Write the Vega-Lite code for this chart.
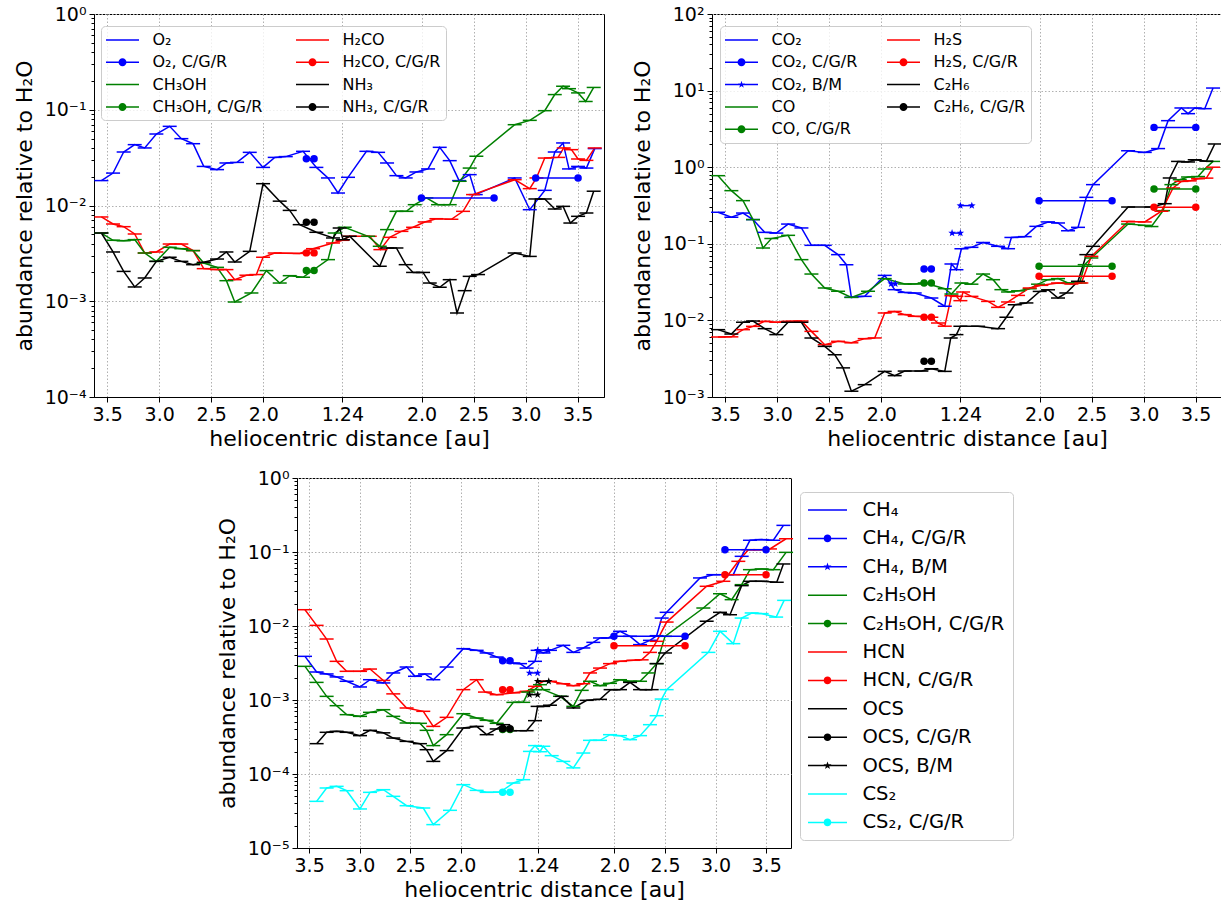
{
"$schema": "https://vega.github.io/schema/vega-lite/v6.json",
"background": "white",
"padding": {"left": 12, "top": 4, "right": 0, "bottom": 0},
"config": {
  "font": "DejaVu Sans",
  "view": {"stroke": "black", "strokeWidth": 1},
  "axis": {"labelFont": "DejaVu Sans", "labelFontSize": 19, "labelColor": "#000", "titleFont": "DejaVu Sans", "titleFontSize": 22, "titleFontWeight": "normal", "titleColor": "#000", "domainColor": "#000", "domainWidth": 1, "tickColor": "#000", "tickWidth": 1, "gridColor": "#b0b0b0", "gridDash": [1.5, 2], "gridWidth": 1, "labelOverlap": false, "labelFlush": false, "labelPadding": 3}
},
"datasets": {
"tlL": [
{"s":"O₂","x":-2.315,"y":0.0182},{"s":"O₂","x":-2.203,"y":0.0218},{"s":"O₂","x":-2.101,"y":0.0362},{"s":"O₂","x":-1.995,"y":0.0432},{"s":"O₂","x":-1.899,"y":0.0399},{"s":"O₂","x":-1.787,"y":0.0558},{"s":"O₂","x":-1.659,"y":0.0671},{"s":"O₂","x":-1.547,"y":0.0499},{"s":"O₂","x":-1.434,"y":0.0442},{"s":"O₂","x":-1.332,"y":0.0256},{"s":"O₂","x":-1.204,"y":0.0237},{"s":"O₂","x":-1.114,"y":0.0278},{"s":"O₂","x":-1.012,"y":0.0282},{"s":"O₂","x":-0.890,"y":0.0359},{"s":"O₂","x":-0.762,"y":0.0250},{"s":"O₂","x":-0.650,"y":0.0318},{"s":"O₂","x":-0.544,"y":0.0324},{"s":"O₂","x":-0.378,"y":0.0368},{"s":"O₂","x":-0.250,"y":0.0250},{"s":"O₂","x":-0.138,"y":0.0194},{"s":"O₂","x":-0.042,"y":0.0135},{"s":"O₂","x":0.054,"y":0.0197},{"s":"O₂","x":0.231,"y":0.0368},{"s":"O₂","x":0.343,"y":0.0359},{"s":"O₂","x":0.429,"y":0.0278},{"s":"O₂","x":0.519,"y":0.0205},{"s":"O₂","x":0.608,"y":0.0194},{"s":"O₂","x":0.711,"y":0.0224},{"s":"O₂","x":0.823,"y":0.0241},{"s":"O₂","x":0.935,"y":0.0405},{"s":"O₂","x":1.031,"y":0.0294},{"s":"O₂","x":1.121,"y":0.0182},{"s":"O₂","x":1.223,"y":0.0210},{"s":"O₂","x":1.281,"y":0.0130},{"s":"O₂","x":1.655,"y":0.0194},{"s":"O₂","x":1.800,"y":0.00904},{"s":"O₂","x":1.944,"y":0.0144},{"s":"O₂","x":2.040,"y":0.0362},{"s":"O₂","x":2.120,"y":0.0450},{"s":"O₂","x":2.177,"y":0.0241},{"s":"O₂","x":2.264,"y":0.0256},{"s":"O₂","x":2.344,"y":0.0246},{"s":"O₂","x":2.424,"y":0.0393},
{"s":"H₂CO","x":-2.315,"y":0.00759},{"s":"H₂CO","x":-2.203,"y":0.00641},{"s":"H₂CO","x":-2.101,"y":0.00601},{"s":"H₂CO","x":-1.995,"y":0.00504},{"s":"H₂CO","x":-1.899,"y":0.00319},{"s":"H₂CO","x":-1.787,"y":0.00327},{"s":"H₂CO","x":-1.659,"y":0.00396},{"s":"H₂CO","x":-1.547,"y":0.00396},{"s":"H₂CO","x":-1.434,"y":0.00338},{"s":"H₂CO","x":-1.332,"y":0.00219},{"s":"H₂CO","x":-1.204,"y":0.00214},{"s":"H₂CO","x":-1.114,"y":0.00214},{"s":"H₂CO","x":-1.034,"y":0.00168},{"s":"H₂CO","x":-0.922,"y":0.00187},{"s":"H₂CO","x":-0.826,"y":0.00190},{"s":"H₂CO","x":-0.762,"y":0.00288},{"s":"H₂CO","x":-0.650,"y":0.00319},{"s":"H₂CO","x":-0.544,"y":0.00317},{"s":"H₂CO","x":-0.410,"y":0.00316},{"s":"H₂CO","x":-0.282,"y":0.00354},{"s":"H₂CO","x":-0.090,"y":0.00406},{"s":"H₂CO","x":0.0,"y":0.00433},{"s":"H₂CO","x":0.070,"y":0.00477},{"s":"H₂CO","x":0.263,"y":0.00477},{"s":"H₂CO","x":0.365,"y":0.00346},{"s":"H₂CO","x":0.455,"y":0.00465},{"s":"H₂CO","x":0.567,"y":0.00537},{"s":"H₂CO","x":0.679,"y":0.00592},{"s":"H₂CO","x":0.791,"y":0.00673},{"s":"H₂CO","x":0.903,"y":0.00728},{"s":"H₂CO","x":1.047,"y":0.00718},{"s":"H₂CO","x":1.159,"y":0.00869},{"s":"H₂CO","x":1.255,"y":0.0130},{"s":"H₂CO","x":1.655,"y":0.0186},{"s":"H₂CO","x":1.800,"y":0.0150},{"s":"H₂CO","x":1.864,"y":0.0194},{"s":"H₂CO","x":1.944,"y":0.0313},{"s":"H₂CO","x":2.072,"y":0.0318},{"s":"H₂CO","x":2.126,"y":0.0399},{"s":"H₂CO","x":2.200,"y":0.0383},{"s":"H₂CO","x":2.264,"y":0.0306},{"s":"H₂CO","x":2.344,"y":0.0296},{"s":"H₂CO","x":2.424,"y":0.0399},
{"s":"CH₃OH","x":-2.315,"y":0.00516},{"s":"CH₃OH","x":-2.203,"y":0.00433},{"s":"CH₃OH","x":-2.101,"y":0.00429},{"s":"CH₃OH","x":-1.995,"y":0.00440},{"s":"CH₃OH","x":-1.899,"y":0.00319},{"s":"CH₃OH","x":-1.787,"y":0.00261},{"s":"CH₃OH","x":-1.659,"y":0.00366},{"s":"CH₃OH","x":-1.547,"y":0.00354},{"s":"CH₃OH","x":-1.434,"y":0.00338},{"s":"CH₃OH","x":-1.332,"y":0.00251},{"s":"CH₃OH","x":-1.204,"y":0.00226},{"s":"CH₃OH","x":-1.114,"y":0.00164},{"s":"CH₃OH","x":-1.034,"y":0.000982},{"s":"CH₃OH","x":-0.874,"y":0.00122},{"s":"CH₃OH","x":-0.730,"y":0.00209},{"s":"CH₃OH","x":-0.602,"y":0.00155},{"s":"CH₃OH","x":-0.506,"y":0.00185},{"s":"CH₃OH","x":-0.378,"y":0.00178},{"s":"CH₃OH","x":-0.138,"y":0.00272},{"s":"CH₃OH","x":-0.074,"y":0.00516},{"s":"CH₃OH","x":0.022,"y":0.00592},{"s":"CH₃OH","x":0.247,"y":0.00477},{"s":"CH₃OH","x":0.359,"y":0.00375},{"s":"CH₃OH","x":0.429,"y":0.0056},{"s":"CH₃OH","x":0.519,"y":0.00869},{"s":"CH₃OH","x":0.615,"y":0.00869},{"s":"CH₃OH","x":0.695,"y":0.0102},{"s":"CH₃OH","x":0.807,"y":0.0120},{"s":"CH₃OH","x":0.919,"y":0.0102},{"s":"CH₃OH","x":1.031,"y":0.0102},{"s":"CH₃OH","x":1.127,"y":0.0179},{"s":"CH₃OH","x":1.223,"y":0.0246},{"s":"CH₃OH","x":1.287,"y":0.0327},{"s":"CH₃OH","x":1.655,"y":0.0698},{"s":"CH₃OH","x":1.800,"y":0.0775},{"s":"CH₃OH","x":1.944,"y":0.0978},{"s":"CH₃OH","x":2.040,"y":0.144},{"s":"CH₃OH","x":2.120,"y":0.176},{"s":"CH₃OH","x":2.177,"y":0.166},{"s":"CH₃OH","x":2.264,"y":0.150},{"s":"CH₃OH","x":2.337,"y":0.122},{"s":"CH₃OH","x":2.414,"y":0.171},
{"s":"NH₃","x":-2.315,"y":0.00516},{"s":"NH₃","x":-2.203,"y":0.00327},{"s":"NH₃","x":-2.101,"y":0.00205},{"s":"NH₃","x":-1.995,"y":0.00141},{"s":"NH₃","x":-1.899,"y":0.00175},{"s":"NH₃","x":-1.787,"y":0.00261},{"s":"NH₃","x":-1.659,"y":0.00288},{"s":"NH₃","x":-1.547,"y":0.00261},{"s":"NH₃","x":-1.434,"y":0.00241},{"s":"NH₃","x":-1.332,"y":0.00255},{"s":"NH₃","x":-1.204,"y":0.00276},{"s":"NH₃","x":-1.114,"y":0.00327},{"s":"NH₃","x":-1.034,"y":0.00257},{"s":"NH₃","x":-0.890,"y":0.00332},{"s":"NH₃","x":-0.762,"y":0.0169},{"s":"NH₃","x":-0.602,"y":0.0111},{"s":"NH₃","x":-0.506,"y":0.00889},{"s":"NH₃","x":-0.410,"y":0.00631},{"s":"NH₃","x":-0.250,"y":0.00525},{"s":"NH₃","x":-0.090,"y":0.00458},{"s":"NH₃","x":-0.026,"y":0.00582},{"s":"NH₃","x":0.006,"y":0.00440},{"s":"NH₃","x":0.070,"y":0.00477},{"s":"NH₃","x":0.359,"y":0.00232},{"s":"NH₃","x":0.429,"y":0.00360},{"s":"NH₃","x":0.519,"y":0.00360},{"s":"NH₃","x":0.608,"y":0.00241},{"s":"NH₃","x":0.679,"y":0.00200},{"s":"NH₃","x":0.775,"y":0.00200},{"s":"NH₃","x":0.839,"y":0.00155},{"s":"NH₃","x":0.935,"y":0.00140},{"s":"NH₃","x":1.031,"y":0.00168},{"s":"NH₃","x":1.101,"y":0.000754},{"s":"NH₃","x":1.175,"y":0.00129},{"s":"NH₃","x":1.223,"y":0.00182},{"s":"NH₃","x":1.303,"y":0.00190},{"s":"NH₃","x":1.655,"y":0.00319},{"s":"NH₃","x":1.800,"y":0.00294},{"s":"NH₃","x":1.854,"y":0.0117},{"s":"NH₃","x":1.944,"y":0.0117},{"s":"NH₃","x":2.040,"y":0.00919},{"s":"NH₃","x":2.120,"y":0.00980},{"s":"NH₃","x":2.190,"y":0.00656},{"s":"NH₃","x":2.264,"y":0.00771},{"s":"NH₃","x":2.344,"y":0.00835},{"s":"NH₃","x":2.414,"y":0.0141}
],
"tlP": [
{"s":"O₂, C/G/R","g":1,"x":-0.346,"y":0.0308},{"s":"O₂, C/G/R","g":1,"x":-0.272,"y":0.0308},{"s":"O₂, C/G/R","g":2,"x":0.759,"y":0.012},{"s":"O₂, C/G/R","g":2,"x":1.457,"y":0.012},{"s":"O₂, C/G/R","g":3,"x":1.857,"y":0.0194},{"s":"O₂, C/G/R","g":3,"x":2.264,"y":0.0194},
{"s":"H₂CO, C/G/R","g":1,"x":-0.346,"y":0.0032},{"s":"H₂CO, C/G/R","g":1,"x":-0.272,"y":0.0032},
{"s":"CH₃OH, C/G/R","g":1,"x":-0.346,"y":0.00209},{"s":"CH₃OH, C/G/R","g":1,"x":-0.272,"y":0.00209},
{"s":"NH₃, C/G/R","g":1,"x":-0.346,"y":0.0067},{"s":"NH₃, C/G/R","g":1,"x":-0.272,"y":0.0067}
],
"trL": [
{"s":"CO₂","x":-2.328,"y":0.258},{"s":"CO₂","x":-2.200,"y":0.222},{"s":"CO₂","x":-2.088,"y":0.252},{"s":"CO₂","x":-1.992,"y":0.207},{"s":"CO₂","x":-1.880,"y":0.141},{"s":"CO₂","x":-1.768,"y":0.138},{"s":"CO₂","x":-1.655,"y":0.181},{"s":"CO₂","x":-1.527,"y":0.161},{"s":"CO₂","x":-1.431,"y":0.0955},{"s":"CO₂","x":-1.303,"y":0.0955},{"s":"CO₂","x":-1.175,"y":0.0722},{"s":"CO₂","x":-1.095,"y":0.0534},{"s":"CO₂","x":-1.047,"y":0.0200},{"s":"CO₂","x":-0.919,"y":0.0206},{"s":"CO₂","x":-0.727,"y":0.0387},{"s":"CO₂","x":-0.631,"y":0.0252},{"s":"CO₂","x":-0.535,"y":0.0232},{"s":"CO₂","x":-0.439,"y":0.0228},{"s":"CO₂","x":-0.279,"y":0.0196},{"s":"CO₂","x":-0.150,"y":0.0153},{"s":"CO₂","x":-0.086,"y":0.0545},{"s":"CO₂","x":-0.038,"y":0.0459},{"s":"CO₂","x":0.010,"y":0.0863},{"s":"CO₂","x":0.106,"y":0.0899},{"s":"CO₂","x":0.218,"y":0.104},{"s":"CO₂","x":0.362,"y":0.0927},{"s":"CO₂","x":0.458,"y":0.0863},{"s":"CO₂","x":0.490,"y":0.121},{"s":"CO₂","x":0.618,"y":0.124},{"s":"CO₂","x":0.730,"y":0.169},{"s":"CO₂","x":0.842,"y":0.193},{"s":"CO₂","x":0.938,"y":0.187},{"s":"CO₂","x":1.034,"y":0.148},{"s":"CO₂","x":1.130,"y":0.164},{"s":"CO₂","x":1.210,"y":0.404},{"s":"CO₂","x":1.274,"y":0.592},{"s":"CO₂","x":1.611,"y":1.64},{"s":"CO₂","x":1.771,"y":1.56},{"s":"CO₂","x":1.899,"y":1.75},{"s":"CO₂","x":1.995,"y":4.05},{"s":"CO₂","x":2.123,"y":5.93},{"s":"CO₂","x":2.187,"y":5.0},{"s":"CO₂","x":2.251,"y":5.93},{"s":"CO₂","x":2.347,"y":5.81},{"s":"CO₂","x":2.427,"y":10.8},
{"s":"CO","x":-2.328,"y":0.775},{"s":"CO","x":-2.200,"y":0.494},{"s":"CO","x":-2.088,"y":0.366},{"s":"CO","x":-1.992,"y":0.207},{"s":"CO","x":-1.896,"y":0.0881},{"s":"CO","x":-1.816,"y":0.117},{"s":"CO","x":-1.655,"y":0.129},{"s":"CO","x":-1.527,"y":0.0621},{"s":"CO","x":-1.431,"y":0.0403},{"s":"CO","x":-1.303,"y":0.0265},{"s":"CO","x":-1.175,"y":0.0240},{"s":"CO","x":-1.047,"y":0.0200},{"s":"CO","x":-0.887,"y":0.0240},{"s":"CO","x":-0.727,"y":0.0351},{"s":"CO","x":-0.535,"y":0.0299},{"s":"CO","x":-0.439,"y":0.0299},{"s":"CO","x":-0.343,"y":0.0308},{"s":"CO","x":-0.150,"y":0.0259},{"s":"CO","x":-0.086,"y":0.0221},{"s":"CO","x":0.010,"y":0.0308},{"s":"CO","x":0.106,"y":0.0297},{"s":"CO","x":0.218,"y":0.0403},{"s":"CO","x":0.314,"y":0.034},{"s":"CO","x":0.394,"y":0.0252},{"s":"CO","x":0.458,"y":0.0235},{"s":"CO","x":0.554,"y":0.0243},{"s":"CO","x":0.666,"y":0.0259},{"s":"CO","x":0.746,"y":0.0297},{"s":"CO","x":0.842,"y":0.034},{"s":"CO","x":0.938,"y":0.0351},{"s":"CO","x":1.034,"y":0.0308},{"s":"CO","x":1.146,"y":0.0308},{"s":"CO","x":1.194,"y":0.0534},{"s":"CO","x":1.258,"y":0.0653},{"s":"CO","x":1.611,"y":0.181},{"s":"CO","x":1.771,"y":0.174},{"s":"CO","x":1.835,"y":0.168},{"s":"CO","x":1.947,"y":0.271},{"s":"CO","x":2.027,"y":0.592},{"s":"CO","x":2.107,"y":0.687},{"s":"CO","x":2.187,"y":0.745},{"s":"CO","x":2.283,"y":0.755},{"s":"CO","x":2.347,"y":0.948},{"s":"CO","x":2.427,"y":1.19},
{"s":"H₂S","x":-2.328,"y":0.00607},{"s":"H₂S","x":-2.200,"y":0.0061},{"s":"H₂S","x":-2.088,"y":0.00757},{"s":"H₂S","x":-1.992,"y":0.00836},{"s":"H₂S","x":-1.880,"y":0.00972},{"s":"H₂S","x":-1.768,"y":0.00946},{"s":"H₂S","x":-1.655,"y":0.00972},{"s":"H₂S","x":-1.527,"y":0.00982},{"s":"H₂S","x":-1.431,"y":0.00719},{"s":"H₂S","x":-1.303,"y":0.00482},{"s":"H₂S","x":-1.175,"y":0.00533},{"s":"H₂S","x":-1.047,"y":0.0051},{"s":"H₂S","x":-0.919,"y":0.00578},{"s":"H₂S","x":-0.823,"y":0.0059},{"s":"H₂S","x":-0.727,"y":0.0125},{"s":"H₂S","x":-0.631,"y":0.0131},{"s":"H₂S","x":-0.535,"y":0.0119},{"s":"H₂S","x":-0.439,"y":0.0113},{"s":"H₂S","x":-0.279,"y":0.0110},{"s":"H₂S","x":-0.215,"y":0.00925},{"s":"H₂S","x":-0.150,"y":0.0084},{"s":"H₂S","x":-0.086,"y":0.021},{"s":"H₂S","x":-0.038,"y":0.0206},{"s":"H₂S","x":0.0,"y":0.0181},{"s":"H₂S","x":0.026,"y":0.0235},{"s":"H₂S","x":0.106,"y":0.0206},{"s":"H₂S","x":0.266,"y":0.0177},{"s":"H₂S","x":0.362,"y":0.0148},{"s":"H₂S","x":0.458,"y":0.0174},{"s":"H₂S","x":0.554,"y":0.0212},{"s":"H₂S","x":0.666,"y":0.0265},{"s":"H₂S","x":0.778,"y":0.0287},{"s":"H₂S","x":0.938,"y":0.0308},{"s":"H₂S","x":1.066,"y":0.0299},{"s":"H₂S","x":1.162,"y":0.0308},{"s":"H₂S","x":1.258,"y":0.0686},{"s":"H₂S","x":1.611,"y":0.196},{"s":"H₂S","x":1.771,"y":0.193},{"s":"H₂S","x":1.931,"y":0.266},{"s":"H₂S","x":2.043,"y":0.535},{"s":"H₂S","x":2.123,"y":0.653},{"s":"H₂S","x":2.203,"y":0.663},{"s":"H₂S","x":2.283,"y":0.708},{"s":"H₂S","x":2.363,"y":0.72},{"s":"H₂S","x":2.427,"y":1.0},
{"s":"C₂H₆","x":-2.328,"y":0.00757},{"s":"C₂H₆","x":-2.200,"y":0.00664},{"s":"C₂H₆","x":-2.088,"y":0.00946},{"s":"C₂H₆","x":-1.992,"y":0.00982},{"s":"C₂H₆","x":-1.880,"y":0.0078},{"s":"C₂H₆","x":-1.768,"y":0.00652},{"s":"C₂H₆","x":-1.655,"y":0.00946},{"s":"C₂H₆","x":-1.527,"y":0.00946},{"s":"C₂H₆","x":-1.431,"y":0.00589},{"s":"C₂H₆","x":-1.303,"y":0.00458},{"s":"C₂H₆","x":-1.207,"y":0.00357},{"s":"C₂H₆","x":-1.127,"y":0.0024},{"s":"C₂H₆","x":-1.047,"y":0.00119},{"s":"C₂H₆","x":-0.919,"y":0.00145},{"s":"C₂H₆","x":-0.727,"y":0.00216},{"s":"C₂H₆","x":-0.631,"y":0.0019},{"s":"C₂H₆","x":-0.535,"y":0.00218},{"s":"C₂H₆","x":-0.375,"y":0.00218},{"s":"C₂H₆","x":-0.279,"y":0.00234},{"s":"C₂H₆","x":-0.150,"y":0.00216},{"s":"C₂H₆","x":-0.093,"y":0.00589},{"s":"C₂H₆","x":-0.038,"y":0.00652},{"s":"C₂H₆","x":0.0,"y":0.00838},{"s":"C₂H₆","x":0.170,"y":0.00838},{"s":"C₂H₆","x":0.362,"y":0.0078},{"s":"C₂H₆","x":0.442,"y":0.011},{"s":"C₂H₆","x":0.522,"y":0.016},{"s":"C₂H₆","x":0.634,"y":0.0169},{"s":"C₂H₆","x":0.762,"y":0.0239},{"s":"C₂H₆","x":0.842,"y":0.0251},{"s":"C₂H₆","x":0.938,"y":0.0196},{"s":"C₂H₆","x":1.018,"y":0.0228},{"s":"C₂H₆","x":1.130,"y":0.0324},{"s":"C₂H₆","x":1.210,"y":0.0722},{"s":"C₂H₆","x":1.274,"y":0.0927},{"s":"C₂H₆","x":1.611,"y":0.302},{"s":"C₂H₆","x":1.835,"y":0.302},{"s":"C₂H₆","x":1.963,"y":0.334},{"s":"C₂H₆","x":2.011,"y":0.723},{"s":"C₂H₆","x":2.091,"y":1.19},{"s":"C₂H₆","x":2.187,"y":1.17},{"s":"C₂H₆","x":2.251,"y":1.25},{"s":"C₂H₆","x":2.363,"y":1.2},{"s":"C₂H₆","x":2.443,"y":2.01}
],
"trP": [
{"s":"CO₂, C/G/R","g":1,"x":-0.349,"y":0.0469},{"s":"CO₂, C/G/R","g":1,"x":-0.279,"y":0.0469},{"s":"CO₂, C/G/R","g":2,"x":0.756,"y":0.366},{"s":"CO₂, C/G/R","g":2,"x":1.457,"y":0.366},{"s":"CO₂, C/G/R","g":3,"x":1.860,"y":3.31},{"s":"CO₂, C/G/R","g":3,"x":2.261,"y":3.31},
{"s":"CO, C/G/R","g":1,"x":-0.349,"y":0.0308},{"s":"CO, C/G/R","g":1,"x":-0.279,"y":0.0308},{"s":"CO, C/G/R","g":2,"x":0.756,"y":0.0508},{"s":"CO, C/G/R","g":2,"x":1.457,"y":0.0508},{"s":"CO, C/G/R","g":3,"x":1.860,"y":0.519},{"s":"CO, C/G/R","g":3,"x":2.261,"y":0.519},
{"s":"H₂S, C/G/R","g":1,"x":-0.349,"y":0.011},{"s":"H₂S, C/G/R","g":1,"x":-0.279,"y":0.011},{"s":"H₂S, C/G/R","g":2,"x":0.756,"y":0.0376},{"s":"H₂S, C/G/R","g":2,"x":1.457,"y":0.0376},{"s":"H₂S, C/G/R","g":3,"x":1.860,"y":0.299},{"s":"H₂S, C/G/R","g":3,"x":2.261,"y":0.299},
{"s":"C₂H₆, C/G/R","g":1,"x":-0.349,"y":0.00292},{"s":"C₂H₆, C/G/R","g":1,"x":-0.279,"y":0.00292},
{"s":"CO₂, B/M","g":1,"x":-0.665,"y":0.030},{"s":"CO₂, B/M","g":1,"x":-0.625,"y":0.030},{"s":"CO₂, B/M","g":2,"x":-0.08,"y":0.138},{"s":"CO₂, B/M","g":2,"x":0.0,"y":0.138},{"s":"CO₂, B/M","g":3,"x":0.0,"y":0.315},{"s":"CO₂, B/M","g":3,"x":0.11,"y":0.315}
],
"btL": [
{"s":"CH₄","x":-2.301,"y":0.00389},{"s":"CH₄","x":-2.186,"y":0.00239},{"s":"CH₄","x":-2.087,"y":0.00225},{"s":"CH₄","x":-1.988,"y":0.00205},{"s":"CH₄","x":-1.889,"y":0.00179},{"s":"CH₄","x":-1.757,"y":0.0015},{"s":"CH₄","x":-1.658,"y":0.00188},{"s":"CH₄","x":-1.526,"y":0.0017},{"s":"CH₄","x":-1.428,"y":0.00232},{"s":"CH₄","x":-1.296,"y":0.00279},{"s":"CH₄","x":-1.213,"y":0.00209},{"s":"CH₄","x":-1.114,"y":0.00225},{"s":"CH₄","x":-1.032,"y":0.00188},{"s":"CH₄","x":-0.900,"y":0.00279},{"s":"CH₄","x":-0.735,"y":0.00494},{"s":"CH₄","x":-0.603,"y":0.00469},{"s":"CH₄","x":-0.504,"y":0.00432},{"s":"CH₄","x":-0.405,"y":0.00381},{"s":"CH₄","x":-0.240,"y":0.00316},{"s":"CH₄","x":-0.174,"y":0.0031},{"s":"CH₄","x":-0.109,"y":0.0027},{"s":"CH₄","x":-0.026,"y":0.00333},{"s":"CH₄","x":0.0,"y":0.00469},{"s":"CH₄","x":0.056,"y":0.00432},{"s":"CH₄","x":0.122,"y":0.00469},{"s":"CH₄","x":0.254,"y":0.00548},{"s":"CH₄","x":0.353,"y":0.0044},{"s":"CH₄","x":0.452,"y":0.00505},{"s":"CH₄","x":0.551,"y":0.00601},{"s":"CH₄","x":0.617,"y":0.00689},{"s":"CH₄","x":0.699,"y":0.00689},{"s":"CH₄","x":0.815,"y":0.00848},{"s":"CH₄","x":0.914,"y":0.00725},{"s":"CH₄","x":1.013,"y":0.0056},{"s":"CH₄","x":1.111,"y":0.0064},{"s":"CH₄","x":1.177,"y":0.0074},{"s":"CH₄","x":1.227,"y":0.0128},{"s":"CH₄","x":1.276,"y":0.0153},{"s":"CH₄","x":1.606,"y":0.0446},{"s":"CH₄","x":1.738,"y":0.0494},{"s":"CH₄","x":1.935,"y":0.0494},{"s":"CH₄","x":2.018,"y":0.0874},{"s":"CH₄","x":2.100,"y":0.144},{"s":"CH₄","x":2.216,"y":0.147},{"s":"CH₄","x":2.331,"y":0.144},{"s":"CH₄","x":2.431,"y":0.229},
{"s":"HCN","x":-2.301,"y":0.0166},{"s":"HCN","x":-2.186,"y":0.0102},{"s":"HCN","x":-2.087,"y":0.00667},{"s":"HCN","x":-1.988,"y":0.00333},{"s":"HCN","x":-1.889,"y":0.00244},{"s":"HCN","x":-1.757,"y":0.00244},{"s":"HCN","x":-1.658,"y":0.00262},{"s":"HCN","x":-1.526,"y":0.00184},{"s":"HCN","x":-1.428,"y":0.00121},{"s":"HCN","x":-1.296,"y":0.00078},{"s":"HCN","x":-1.131,"y":0.000703},{"s":"HCN","x":-1.032,"y":0.00044},{"s":"HCN","x":-0.900,"y":0.000583},{"s":"HCN","x":-0.735,"y":0.00138},{"s":"HCN","x":-0.603,"y":0.00188},{"s":"HCN","x":-0.521,"y":0.00128},{"s":"HCN","x":-0.405,"y":0.00118},{"s":"HCN","x":-0.240,"y":0.00125},{"s":"HCN","x":-0.109,"y":0.00131},{"s":"HCN","x":-0.026,"y":0.00153},{"s":"HCN","x":0.056,"y":0.00179},{"s":"HCN","x":0.122,"y":0.00179},{"s":"HCN","x":0.254,"y":0.00166},{"s":"HCN","x":0.353,"y":0.00156},{"s":"HCN","x":0.452,"y":0.00166},{"s":"HCN","x":0.518,"y":0.00232},{"s":"HCN","x":0.617,"y":0.0027},{"s":"HCN","x":0.716,"y":0.0031},{"s":"HCN","x":0.815,"y":0.00333},{"s":"HCN","x":0.947,"y":0.00344},{"s":"HCN","x":1.029,"y":0.00349},{"s":"HCN","x":1.111,"y":0.0044},{"s":"HCN","x":1.177,"y":0.00621},{"s":"HCN","x":1.276,"y":0.0113},{"s":"HCN","x":1.672,"y":0.0344},{"s":"HCN","x":1.837,"y":0.0402},{"s":"HCN","x":1.985,"y":0.0748},{"s":"HCN","x":2.084,"y":0.1075},{"s":"HCN","x":2.200,"y":0.1075},{"s":"HCN","x":2.298,"y":0.11},{"s":"HCN","x":2.457,"y":0.151},
{"s":"C₂H₅OH","x":-2.301,"y":0.00285},{"s":"C₂H₅OH","x":-2.186,"y":0.00173},{"s":"C₂H₅OH","x":-2.087,"y":0.00112},{"s":"C₂H₅OH","x":-1.988,"y":0.000838},{"s":"C₂H₅OH","x":-1.889,"y":0.000634},{"s":"C₂H₅OH","x":-1.757,"y":0.000601},{"s":"C₂H₅OH","x":-1.658,"y":0.000681},{"s":"C₂H₅OH","x":-1.526,"y":0.00074},{"s":"C₂H₅OH","x":-1.428,"y":0.000601},{"s":"C₂H₅OH","x":-1.296,"y":0.000489},{"s":"C₂H₅OH","x":-1.164,"y":0.000484},{"s":"C₂H₅OH","x":-1.098,"y":0.000389},{"s":"C₂H₅OH","x":-1.032,"y":0.000242},{"s":"C₂H₅OH","x":-0.900,"y":0.00034},{"s":"C₂H₅OH","x":-0.735,"y":0.000653},{"s":"C₂H₅OH","x":-0.603,"y":0.000571},{"s":"C₂H₅OH","x":-0.504,"y":0.000531},{"s":"C₂H₅OH","x":-0.405,"y":0.000484},{"s":"C₂H₅OH","x":-0.240,"y":0.000929},{"s":"C₂H₅OH","x":-0.142,"y":0.00093},{"s":"C₂H₅OH","x":-0.092,"y":0.00128},{"s":"C₂H₅OH","x":-0.026,"y":0.00138},{"s":"C₂H₅OH","x":0.023,"y":0.00161},{"s":"C₂H₅OH","x":0.056,"y":0.00138},{"s":"C₂H₅OH","x":0.221,"y":0.00112},{"s":"C₂H₅OH","x":0.353,"y":0.00082},{"s":"C₂H₅OH","x":0.436,"y":0.00135},{"s":"C₂H₅OH","x":0.518,"y":0.00179},{"s":"C₂H₅OH","x":0.617,"y":0.00156},{"s":"C₂H₅OH","x":0.716,"y":0.00168},{"s":"C₂H₅OH","x":0.815,"y":0.00188},{"s":"C₂H₅OH","x":0.914,"y":0.00179},{"s":"C₂H₅OH","x":1.013,"y":0.00179},{"s":"C₂H₅OH","x":1.095,"y":0.00232},{"s":"C₂H₅OH","x":1.177,"y":0.0031},{"s":"C₂H₅OH","x":1.260,"y":0.00725},{"s":"C₂H₅OH","x":1.639,"y":0.0175},{"s":"C₂H₅OH","x":1.804,"y":0.0273},{"s":"C₂H₅OH","x":1.919,"y":0.0227},{"s":"C₂H₅OH","x":2.018,"y":0.0362},{"s":"C₂H₅OH","x":2.100,"y":0.0577},{"s":"C₂H₅OH","x":2.216,"y":0.059},{"s":"C₂H₅OH","x":2.331,"y":0.0577},{"s":"C₂H₅OH","x":2.457,"y":0.0989},
{"s":"OCS","x":-2.186,"y":0.000257},{"s":"OCS","x":-2.087,"y":0.000366},{"s":"OCS","x":-1.988,"y":0.000377},{"s":"OCS","x":-1.889,"y":0.000366},{"s":"OCS","x":-1.757,"y":0.00033},{"s":"OCS","x":-1.658,"y":0.000389},{"s":"OCS","x":-1.526,"y":0.00036},{"s":"OCS","x":-1.428,"y":0.000306},{"s":"OCS","x":-1.296,"y":0.000276},{"s":"OCS","x":-1.164,"y":0.000257},{"s":"OCS","x":-1.098,"y":0.000213},{"s":"OCS","x":-1.032,"y":0.000148},{"s":"OCS","x":-0.900,"y":0.000207},{"s":"OCS","x":-0.735,"y":0.000418},{"s":"OCS","x":-0.603,"y":0.00044},{"s":"OCS","x":-0.504,"y":0.00034},{"s":"OCS","x":-0.405,"y":0.000406},{"s":"OCS","x":-0.340,"y":0.000464},{"s":"OCS","x":-0.273,"y":0.000385},{"s":"OCS","x":-0.109,"y":0.000385},{"s":"OCS","x":-0.026,"y":0.000526},{"s":"OCS","x":0.0,"y":0.00082},{"s":"OCS","x":0.056,"y":0.00082},{"s":"OCS","x":0.122,"y":0.00085},{"s":"OCS","x":0.238,"y":0.00112},{"s":"OCS","x":0.353,"y":0.00078},{"s":"OCS","x":0.485,"y":0.00099},{"s":"OCS","x":0.617,"y":0.00102},{"s":"OCS","x":0.722,"y":0.00138},{"s":"OCS","x":0.815,"y":0.00138},{"s":"OCS","x":0.914,"y":0.00173},{"s":"OCS","x":1.013,"y":0.00138},{"s":"OCS","x":1.128,"y":0.00138},{"s":"OCS","x":1.177,"y":0.0031},{"s":"OCS","x":1.260,"y":0.00432},{"s":"OCS","x":1.672,"y":0.0116},{"s":"OCS","x":1.804,"y":0.0153},{"s":"OCS","x":1.903,"y":0.0142},{"s":"OCS","x":2.018,"y":0.0351},{"s":"OCS","x":2.100,"y":0.0402},{"s":"OCS","x":2.216,"y":0.0402},{"s":"OCS","x":2.365,"y":0.039},{"s":"OCS","x":2.431,"y":0.0689},
{"s":"CS₂","x":-2.186,"y":4.27e-5},{"s":"CS₂","x":-2.087,"y":6.47e-5},{"s":"CS₂","x":-1.988,"y":6.81e-5},{"s":"CS₂","x":-1.889,"y":5.95e-5},{"s":"CS₂","x":-1.757,"y":3.37e-5},{"s":"CS₂","x":-1.658,"y":5.65e-5},{"s":"CS₂","x":-1.526,"y":6.14e-5},{"s":"CS₂","x":-1.428,"y":4.99e-5},{"s":"CS₂","x":-1.296,"y":3.73e-5},{"s":"CS₂","x":-1.131,"y":3.47e-5},{"s":"CS₂","x":-1.032,"y":2.07e-5},{"s":"CS₂","x":-0.867,"y":3.23e-5},{"s":"CS₂","x":-0.735,"y":7.18e-5},{"s":"CS₂","x":-0.603,"y":6.01e-5},{"s":"CS₂","x":-0.504,"y":5.65e-5},{"s":"CS₂","x":-0.372,"y":5.7e-5},{"s":"CS₂","x":-0.240,"y":7.55e-5},{"s":"CS₂","x":-0.142,"y":8.38e-5},{"s":"CS₂","x":-0.076,"y":0.000202},{"s":"CS₂","x":-0.026,"y":0.000242},{"s":"CS₂","x":0.023,"y":0.0002},{"s":"CS₂","x":0.056,"y":0.000237},{"s":"CS₂","x":0.139,"y":0.000177},{"s":"CS₂","x":0.254,"y":0.000148},{"s":"CS₂","x":0.353,"y":0.000121},{"s":"CS₂","x":0.452,"y":0.000192},{"s":"CS₂","x":0.518,"y":0.000285},{"s":"CS₂","x":0.617,"y":0.000285},{"s":"CS₂","x":0.716,"y":0.00034},{"s":"CS₂","x":0.815,"y":0.00033},{"s":"CS₂","x":0.914,"y":0.000291},{"s":"CS₂","x":1.013,"y":0.00033},{"s":"CS₂","x":1.111,"y":0.000464},{"s":"CS₂","x":1.177,"y":0.000614},{"s":"CS₂","x":1.227,"y":0.00103},{"s":"CS₂","x":1.276,"y":0.00138},{"s":"CS₂","x":1.689,"y":0.0044},{"s":"CS₂","x":1.804,"y":0.00848},{"s":"CS₂","x":1.935,"y":0.00577},{"s":"CS₂","x":2.018,"y":0.0128},{"s":"CS₂","x":2.117,"y":0.015},{"s":"CS₂","x":2.216,"y":0.0147},{"s":"CS₂","x":2.359,"y":0.0132},{"s":"CS₂","x":2.438,"y":0.0222}
],
"btP": [
{"s":"CH₄, C/G/R","g":1,"x":-0.346,"y":0.0034},{"s":"CH₄, C/G/R","g":1,"x":-0.273,"y":0.0034},{"s":"CH₄, C/G/R","g":2,"x":0.755,"y":0.00725},{"s":"CH₄, C/G/R","g":2,"x":1.458,"y":0.00725},{"s":"CH₄, C/G/R","g":3,"x":1.853,"y":0.1075},{"s":"CH₄, C/G/R","g":3,"x":2.259,"y":0.1075},
{"s":"C₂H₅OH, C/G/R","g":1,"x":-0.346,"y":0.0004},{"s":"C₂H₅OH, C/G/R","g":1,"x":-0.273,"y":0.0004},
{"s":"HCN, C/G/R","g":1,"x":-0.346,"y":0.00138},{"s":"HCN, C/G/R","g":1,"x":-0.273,"y":0.00138},{"s":"HCN, C/G/R","g":2,"x":0.755,"y":0.00542},{"s":"HCN, C/G/R","g":2,"x":1.458,"y":0.00542},{"s":"HCN, C/G/R","g":3,"x":1.853,"y":0.0494},{"s":"HCN, C/G/R","g":3,"x":2.259,"y":0.0494},
{"s":"OCS, C/G/R","g":1,"x":-0.346,"y":0.00041},{"s":"OCS, C/G/R","g":1,"x":-0.273,"y":0.00041},
{"s":"CS₂, C/G/R","g":1,"x":-0.346,"y":5.65e-5},{"s":"CS₂, C/G/R","g":1,"x":-0.273,"y":5.65e-5},
{"s":"CH₄, B/M","g":1,"x":-0.08,"y":0.00232},{"s":"CH₄, B/M","g":1,"x":0.0,"y":0.00232},{"s":"CH₄, B/M","g":2,"x":0.0,"y":0.00469},{"s":"CH₄, B/M","g":2,"x":0.105,"y":0.00469},
{"s":"OCS, B/M","g":1,"x":-0.08,"y":0.00118},{"s":"OCS, B/M","g":1,"x":0.0,"y":0.00118},{"s":"OCS, B/M","g":2,"x":0.0,"y":0.00179},{"s":"OCS, B/M","g":2,"x":0.11,"y":0.00179}
]
},
"spacing": 18,
"resolve": {"scale": {"x": "independent", "y": "independent", "color": "independent", "shape": "independent"}},
"vconcat": [
{
"spacing": 25,
"resolve": {"scale": {"x": "independent", "y": "independent", "color": "independent", "shape": "independent"}},
"hconcat": [
{
"width": 510, "height": 383,
"encoding": {
  "x": {"field": "x", "type": "quantitative", "scale": {"domain": [-2.386, 2.513], "nice": false, "zero": false}, "axis": {"values": [-2.26,-1.76,-1.26,-0.76,0,0.76,1.26,1.76,2.26], "labelExpr": "datum.value == 0 ? '1.24' : format(abs(datum.value) + 1.24, '.1f')", "title": "heliocentric distance [au]", "grid": true, "tickSize": 5, "titlePadding": 4}},
  "y": {"field": "y", "type": "quantitative", "scale": {"type": "log", "domain": [0.0001, 1], "nice": false}, "axis": {"values": [0.0001,0.0002,0.0003,0.0004,0.0005,0.0006,0.0007,0.0008,0.0009,0.001,0.002,0.003,0.004,0.005,0.006,0.007,0.008,0.009,0.01,0.02,0.03,0.04,0.05,0.06,0.07,0.08,0.09,0.1,0.2,0.3,0.4,0.5,0.6,0.7,0.8,0.9,1], "labelExpr": "abs(log(datum.value)/LN10 - round(log(datum.value)/LN10)) < 1e-6 ? '10' + replace(replace(replace(replace(replace(replace(replace('' + round(log(datum.value)/LN10), '-', '⁻'), '0', '⁰'), '1', '¹'), '2', '²'), '3', '³'), '4', '⁴'), '5', '⁵') : ''", "tickSize": {"condition": {"test": "abs(log(datum.value)/LN10 - round(log(datum.value)/LN10)) < 1e-6", "value": 5}, "value": 3}, "gridOpacity": {"condition": {"test": "abs(log(datum.value)/LN10 - round(log(datum.value)/LN10)) < 1e-6", "value": 1}, "value": 0}, "grid": true, "title": "abundance relative to H₂O", "titlePadding": 8}}
},
"layer": [
{"data": {"values": []}, "mark": {"type": "point", "filled": true, "opacity": 1}, "encoding": {
  "color": {"field": "s", "type": "nominal", "scale": {"domain": ["O₂","O₂, C/G/R","CH₃OH","CH₃OH, C/G/R","H₂CO","H₂CO, C/G/R","NH₃","NH₃, C/G/R"], "range": ["#0000ff","#0000ff","#008000","#008000","#ff0000","#ff0000","#000000","#000000"]}, "legend": {"title": null, "orient": "none", "legendX": 7, "legendY": 12, "columns": 2, "symbolSize": 324, "symbolOffset": 7.5, "labelOffset": 21, "labelFontSize": 16, "labelFont": "DejaVu Sans", "labelColor": "#000", "rowPadding": 5.3, "columnPadding": 33, "padding": 5, "strokeColor": "#cccccc", "fillColor": "rgba(255,255,255,0.8)", "cornerRadius": 4, "symbolOpacity": 1, "symbolStrokeWidth": 0, "labelLimit": 400}},
  "shape": {"field": "s", "type": "nominal", "scale": {"domain": ["O₂","O₂, C/G/R","CH₃OH","CH₃OH, C/G/R","H₂CO","H₂CO, C/G/R","NH₃","NH₃, C/G/R"], "range": ["M-1.833,-0.083H1.833V0.083H-1.833Z","M-1.833,-0.083H1.833V0.083H-1.833ZM0.444,0A0.444,0.444,0,1,1,-0.444,0A0.444,0.444,0,1,1,0.444,0Z","M-1.833,-0.083H1.833V0.083H-1.833Z","M-1.833,-0.083H1.833V0.083H-1.833ZM0.444,0A0.444,0.444,0,1,1,-0.444,0A0.444,0.444,0,1,1,0.444,0Z","M-1.833,-0.083H1.833V0.083H-1.833Z","M-1.833,-0.083H1.833V0.083H-1.833ZM0.444,0A0.444,0.444,0,1,1,-0.444,0A0.444,0.444,0,1,1,0.444,0Z","M-1.833,-0.083H1.833V0.083H-1.833Z","M-1.833,-0.083H1.833V0.083H-1.833ZM0.444,0A0.444,0.444,0,1,1,-0.444,0A0.444,0.444,0,1,1,0.444,0Z"]}, "legend": {"title": null, "orient": "none", "legendX": 7, "legendY": 12, "columns": 2, "symbolSize": 324, "symbolOffset": 7.5, "labelOffset": 21, "labelFontSize": 16, "labelFont": "DejaVu Sans", "labelColor": "#000", "rowPadding": 5.3, "columnPadding": 33, "padding": 5, "strokeColor": "#cccccc", "fillColor": "rgba(255,255,255,0.8)", "cornerRadius": 4, "symbolOpacity": 1, "symbolStrokeWidth": 0, "labelLimit": 400}}
}},
{"data": {"name": "tlL"}, "mark": {"type": "line", "strokeWidth": 1.5}, "encoding": {"color": {"field": "s", "type": "nominal", "scale": {"domain": ["O₂","O₂, C/G/R","CH₃OH","CH₃OH, C/G/R","H₂CO","H₂CO, C/G/R","NH₃","NH₃, C/G/R"], "range": ["#0000ff","#0000ff","#008000","#008000","#ff0000","#ff0000","#000000","#000000"]}, "legend": null}}},
{"data": {"name": "tlL"}, "mark": {"type": "tick", "orient": "horizontal", "size": 14, "thickness": 1.5, "opacity": 1}, "encoding": {"color": {"field": "s", "type": "nominal", "scale": {"domain": ["O₂","O₂, C/G/R","CH₃OH","CH₃OH, C/G/R","H₂CO","H₂CO, C/G/R","NH₃","NH₃, C/G/R"], "range": ["#0000ff","#0000ff","#008000","#008000","#ff0000","#ff0000","#000000","#000000"]}, "legend": null}}},
{"data": {"name": "tlP"}, "mark": {"type": "line", "strokeWidth": 1.5}, "encoding": {"detail": {"field": "g", "type": "nominal"}, "color": {"field": "s", "type": "nominal", "scale": {"domain": ["O₂","O₂, C/G/R","CH₃OH","CH₃OH, C/G/R","H₂CO","H₂CO, C/G/R","NH₃","NH₃, C/G/R"], "range": ["#0000ff","#0000ff","#008000","#008000","#ff0000","#ff0000","#000000","#000000"]}, "legend": null}}},
{"data": {"name": "tlP"}, "mark": {"type": "point", "shape": "circle", "filled": true, "size": 56, "opacity": 1}, "encoding": {"color": {"field": "s", "type": "nominal", "scale": {"domain": ["O₂","O₂, C/G/R","CH₃OH","CH₃OH, C/G/R","H₂CO","H₂CO, C/G/R","NH₃","NH₃, C/G/R"], "range": ["#0000ff","#0000ff","#008000","#008000","#ff0000","#ff0000","#000000","#000000"]}, "legend": null}}}
]
},
{
"width": 510, "height": 383,
"encoding": {
  "x": {"field": "x", "type": "quantitative", "scale": {"domain": [-2.386, 2.513], "nice": false, "zero": false}, "axis": {"values": [-2.26,-1.76,-1.26,-0.76,0,0.76,1.26,1.76,2.26], "labelExpr": "datum.value == 0 ? '1.24' : format(abs(datum.value) + 1.24, '.1f')", "title": "heliocentric distance [au]", "grid": true, "tickSize": 5, "titlePadding": 4}},
  "y": {"field": "y", "type": "quantitative", "scale": {"type": "log", "domain": [0.001, 100], "nice": false}, "axis": {"values": [0.001,0.002,0.003,0.004,0.005,0.006,0.007,0.008,0.009,0.01,0.02,0.03,0.04,0.05,0.06,0.07,0.08,0.09,0.1,0.2,0.3,0.4,0.5,0.6,0.7,0.8,0.9,1,2,3,4,5,6,7,8,9,10,20,30,40,50,60,70,80,90,100], "labelExpr": "abs(log(datum.value)/LN10 - round(log(datum.value)/LN10)) < 1e-6 ? '10' + replace(replace(replace(replace(replace(replace(replace('' + round(log(datum.value)/LN10), '-', '⁻'), '0', '⁰'), '1', '¹'), '2', '²'), '3', '³'), '4', '⁴'), '5', '⁵') : ''", "tickSize": {"condition": {"test": "abs(log(datum.value)/LN10 - round(log(datum.value)/LN10)) < 1e-6", "value": 5}, "value": 3}, "gridOpacity": {"condition": {"test": "abs(log(datum.value)/LN10 - round(log(datum.value)/LN10)) < 1e-6", "value": 1}, "value": 0}, "grid": true, "title": "abundance relative to H₂O", "titlePadding": 8}}
},
"layer": [
{"data": {"values": []}, "mark": {"type": "point", "filled": true, "opacity": 1}, "encoding": {
  "color": {"field": "s", "type": "nominal", "scale": {"domain": ["CO₂","CO₂, C/G/R","CO₂, B/M","CO","CO, C/G/R","H₂S","H₂S, C/G/R","C₂H₆","C₂H₆, C/G/R"], "range": ["#0000ff","#0000ff","#0000ff","#008000","#008000","#ff0000","#ff0000","#000000","#000000"]}, "legend": {"title": null, "orient": "none", "legendX": 8, "legendY": 12, "columns": 2, "symbolSize": 324, "symbolOffset": 7.5, "labelOffset": 21, "labelFontSize": 16, "labelFont": "DejaVu Sans", "labelColor": "#000", "rowPadding": 5.3, "columnPadding": 29, "padding": 5, "strokeColor": "#cccccc", "fillColor": "rgba(255,255,255,0.8)", "cornerRadius": 4, "symbolOpacity": 1, "symbolStrokeWidth": 0, "labelLimit": 400}},
  "shape": {"field": "s", "type": "nominal", "scale": {"domain": ["CO₂","CO₂, C/G/R","CO₂, B/M","CO","CO, C/G/R","H₂S","H₂S, C/G/R","C₂H₆","C₂H₆, C/G/R"], "range": ["M-1.833,-0.083H1.833V0.083H-1.833Z","M-1.833,-0.083H1.833V0.083H-1.833ZM0.444,0A0.444,0.444,0,1,1,-0.444,0A0.444,0.444,0,1,1,0.444,0Z","M-1.833,-0.083H1.833V0.083H-1.833ZM0,-0.42L0.099,-0.136L0.4,-0.13L0.16,0.052L0.247,0.34L0,0.168L-0.247,0.34L-0.16,0.052L-0.4,-0.13L-0.099,-0.136Z","M-1.833,-0.083H1.833V0.083H-1.833Z","M-1.833,-0.083H1.833V0.083H-1.833ZM0.444,0A0.444,0.444,0,1,1,-0.444,0A0.444,0.444,0,1,1,0.444,0Z","M-1.833,-0.083H1.833V0.083H-1.833Z","M-1.833,-0.083H1.833V0.083H-1.833ZM0.444,0A0.444,0.444,0,1,1,-0.444,0A0.444,0.444,0,1,1,0.444,0Z","M-1.833,-0.083H1.833V0.083H-1.833Z","M-1.833,-0.083H1.833V0.083H-1.833ZM0.444,0A0.444,0.444,0,1,1,-0.444,0A0.444,0.444,0,1,1,0.444,0Z"]}, "legend": {"title": null, "orient": "none", "legendX": 8, "legendY": 12, "columns": 2, "symbolSize": 324, "symbolOffset": 7.5, "labelOffset": 21, "labelFontSize": 16, "labelFont": "DejaVu Sans", "labelColor": "#000", "rowPadding": 5.3, "columnPadding": 29, "padding": 5, "strokeColor": "#cccccc", "fillColor": "rgba(255,255,255,0.8)", "cornerRadius": 4, "symbolOpacity": 1, "symbolStrokeWidth": 0, "labelLimit": 400}}
}},
{"data": {"name": "trL"}, "mark": {"type": "line", "strokeWidth": 1.5}, "encoding": {"color": {"field": "s", "type": "nominal", "scale": {"domain": ["CO₂","CO₂, C/G/R","CO₂, B/M","CO","CO, C/G/R","H₂S","H₂S, C/G/R","C₂H₆","C₂H₆, C/G/R"], "range": ["#0000ff","#0000ff","#0000ff","#008000","#008000","#ff0000","#ff0000","#000000","#000000"]}, "legend": null}}},
{"data": {"name": "trL"}, "mark": {"type": "tick", "orient": "horizontal", "size": 14, "thickness": 1.5, "opacity": 1}, "encoding": {"color": {"field": "s", "type": "nominal", "scale": {"domain": ["CO₂","CO₂, C/G/R","CO₂, B/M","CO","CO, C/G/R","H₂S","H₂S, C/G/R","C₂H₆","C₂H₆, C/G/R"], "range": ["#0000ff","#0000ff","#0000ff","#008000","#008000","#ff0000","#ff0000","#000000","#000000"]}, "legend": null}}},
{"data": {"name": "trP"}, "mark": {"type": "line", "strokeWidth": 1.5}, "encoding": {"detail": {"field": "g", "type": "nominal"}, "color": {"field": "s", "type": "nominal", "scale": {"domain": ["CO₂","CO₂, C/G/R","CO₂, B/M","CO","CO, C/G/R","H₂S","H₂S, C/G/R","C₂H₆","C₂H₆, C/G/R"], "range": ["#0000ff","#0000ff","#0000ff","#008000","#008000","#ff0000","#ff0000","#000000","#000000"]}, "legend": null}}},
{"data": {"name": "trP"}, "transform": [{"filter": "indexof(datum.s, 'B/M') < 0"}], "mark": {"type": "point", "shape": "circle", "filled": true, "size": 56, "opacity": 1}, "encoding": {"color": {"field": "s", "type": "nominal", "scale": {"domain": ["CO₂","CO₂, C/G/R","CO₂, B/M","CO","CO, C/G/R","H₂S","H₂S, C/G/R","C₂H₆","C₂H₆, C/G/R"], "range": ["#0000ff","#0000ff","#0000ff","#008000","#008000","#ff0000","#ff0000","#000000","#000000"]}, "legend": null}}},
{"data": {"name": "trP"}, "transform": [{"filter": "indexof(datum.s, 'B/M') >= 0"}], "mark": {"type": "point", "shape": "M0,-1L0.235,-0.324L0.951,-0.309L0.38,0.124L0.588,0.809L0,0.4L-0.588,0.809L-0.38,0.124L-0.951,-0.309L-0.235,-0.324Z", "filled": true, "size": 64, "opacity": 1}, "encoding": {"color": {"field": "s", "type": "nominal", "scale": {"domain": ["CO₂","CO₂, C/G/R","CO₂, B/M","CO","CO, C/G/R","H₂S","H₂S, C/G/R","C₂H₆","C₂H₆, C/G/R"], "range": ["#0000ff","#0000ff","#0000ff","#008000","#008000","#ff0000","#ff0000","#000000","#000000"]}, "legend": null}}}
]
}
]
},
{
"spacing": 0,
"resolve": {"scale": {"x": "independent", "y": "independent", "color": "independent", "shape": "independent"}},
"hconcat": [
{"width": 121, "height": 10, "data": {"values": []}, "mark": "point", "view": {"stroke": null, "fill": "white"}},
{
"width": 494, "height": 370,
"encoding": {
  "x": {"field": "x", "type": "quantitative", "scale": {"domain": [-2.38, 2.506], "nice": false, "zero": false}, "axis": {"values": [-2.26,-1.76,-1.26,-0.76,0,0.76,1.26,1.76,2.26], "labelExpr": "datum.value == 0 ? '1.24' : format(abs(datum.value) + 1.24, '.1f')", "title": "heliocentric distance [au]", "grid": true, "tickSize": 5, "titlePadding": 4}},
  "y": {"field": "y", "type": "quantitative", "scale": {"type": "log", "domain": [0.00001, 1], "nice": false}, "axis": {"values": [0.00001,0.00002,0.00003,0.00004,0.00005,0.00006,0.00007,0.00008,0.00009,0.0001,0.0002,0.0003,0.0004,0.0005,0.0006,0.0007,0.0008,0.0009,0.001,0.002,0.003,0.004,0.005,0.006,0.007,0.008,0.009,0.01,0.02,0.03,0.04,0.05,0.06,0.07,0.08,0.09,0.1,0.2,0.3,0.4,0.5,0.6,0.7,0.8,0.9,1], "labelExpr": "abs(log(datum.value)/LN10 - round(log(datum.value)/LN10)) < 1e-6 ? '10' + replace(replace(replace(replace(replace(replace(replace('' + round(log(datum.value)/LN10), '-', '⁻'), '0', '⁰'), '1', '¹'), '2', '²'), '3', '³'), '4', '⁴'), '5', '⁵') : ''", "tickSize": {"condition": {"test": "abs(log(datum.value)/LN10 - round(log(datum.value)/LN10)) < 1e-6", "value": 5}, "value": 3}, "gridOpacity": {"condition": {"test": "abs(log(datum.value)/LN10 - round(log(datum.value)/LN10)) < 1e-6", "value": 1}, "value": 0}, "grid": true, "title": "abundance relative to H₂O", "titlePadding": 8}}
},
"layer": [
{"data": {"values": []}, "mark": {"type": "point", "filled": true, "opacity": 1}, "encoding": {
  "color": {"field": "s", "type": "nominal", "scale": {"domain": ["CH₄","CH₄, C/G/R","CH₄, B/M","C₂H₅OH","C₂H₅OH, C/G/R","HCN","HCN, C/G/R","OCS","OCS, C/G/R","OCS, B/M","CS₂","CS₂, C/G/R"], "range": ["#0000ff","#0000ff","#0000ff","#008000","#008000","#ff0000","#ff0000","#000000","#000000","#000000","#00ffff","#00ffff"]}, "legend": {"title": null, "orient": "none", "legendX": 503, "legendY": 14, "symbolSize": 400, "symbolOffset": 9.5, "labelOffset": 25, "labelFontSize": 19.5, "labelFont": "DejaVu Sans", "labelColor": "#000", "rowPadding": 8.4, "padding": 8, "strokeColor": "#cccccc", "fillColor": "white", "cornerRadius": 4, "symbolOpacity": 1, "symbolStrokeWidth": 0, "labelLimit": 400}},
  "shape": {"field": "s", "type": "nominal", "scale": {"domain": ["CH₄","CH₄, C/G/R","CH₄, B/M","C₂H₅OH","C₂H₅OH, C/G/R","HCN","HCN, C/G/R","OCS","OCS, C/G/R","OCS, B/M","CS₂","CS₂, C/G/R"], "range": ["M-1.95,-0.075H1.95V0.075H-1.95Z","M-1.95,-0.075H1.95V0.075H-1.95ZM0.38,0A0.38,0.38,0,1,1,-0.38,0A0.38,0.38,0,1,1,0.38,0Z","M-1.95,-0.075H1.95V0.075H-1.95ZM0,-0.42L0.099,-0.136L0.4,-0.13L0.16,0.052L0.247,0.34L0,0.168L-0.247,0.34L-0.16,0.052L-0.4,-0.13L-0.099,-0.136Z","M-1.95,-0.075H1.95V0.075H-1.95Z","M-1.95,-0.075H1.95V0.075H-1.95ZM0.38,0A0.38,0.38,0,1,1,-0.38,0A0.38,0.38,0,1,1,0.38,0Z","M-1.95,-0.075H1.95V0.075H-1.95Z","M-1.95,-0.075H1.95V0.075H-1.95ZM0.38,0A0.38,0.38,0,1,1,-0.38,0A0.38,0.38,0,1,1,0.38,0Z","M-1.95,-0.075H1.95V0.075H-1.95Z","M-1.95,-0.075H1.95V0.075H-1.95ZM0.38,0A0.38,0.38,0,1,1,-0.38,0A0.38,0.38,0,1,1,0.38,0Z","M-1.95,-0.075H1.95V0.075H-1.95ZM0,-0.42L0.099,-0.136L0.4,-0.13L0.16,0.052L0.247,0.34L0,0.168L-0.247,0.34L-0.16,0.052L-0.4,-0.13L-0.099,-0.136Z","M-1.95,-0.075H1.95V0.075H-1.95Z","M-1.95,-0.075H1.95V0.075H-1.95ZM0.38,0A0.38,0.38,0,1,1,-0.38,0A0.38,0.38,0,1,1,0.38,0Z"]}, "legend": {"title": null, "orient": "none", "legendX": 503, "legendY": 14, "symbolSize": 400, "symbolOffset": 9.5, "labelOffset": 25, "labelFontSize": 19.5, "labelFont": "DejaVu Sans", "labelColor": "#000", "rowPadding": 8.4, "padding": 8, "strokeColor": "#cccccc", "fillColor": "white", "cornerRadius": 4, "symbolOpacity": 1, "symbolStrokeWidth": 0, "labelLimit": 400}}
}},
{"data": {"name": "btL"}, "mark": {"type": "line", "strokeWidth": 1.5}, "encoding": {"color": {"field": "s", "type": "nominal", "scale": {"domain": ["CH₄","CH₄, C/G/R","CH₄, B/M","C₂H₅OH","C₂H₅OH, C/G/R","HCN","HCN, C/G/R","OCS","OCS, C/G/R","OCS, B/M","CS₂","CS₂, C/G/R"], "range": ["#0000ff","#0000ff","#0000ff","#008000","#008000","#ff0000","#ff0000","#000000","#000000","#000000","#00ffff","#00ffff"]}, "legend": null}}},
{"data": {"name": "btL"}, "mark": {"type": "tick", "orient": "horizontal", "size": 14, "thickness": 1.5, "opacity": 1}, "encoding": {"color": {"field": "s", "type": "nominal", "scale": {"domain": ["CH₄","CH₄, C/G/R","CH₄, B/M","C₂H₅OH","C₂H₅OH, C/G/R","HCN","HCN, C/G/R","OCS","OCS, C/G/R","OCS, B/M","CS₂","CS₂, C/G/R"], "range": ["#0000ff","#0000ff","#0000ff","#008000","#008000","#ff0000","#ff0000","#000000","#000000","#000000","#00ffff","#00ffff"]}, "legend": null}}},
{"data": {"name": "btP"}, "mark": {"type": "line", "strokeWidth": 1.5}, "encoding": {"detail": {"field": "g", "type": "nominal"}, "color": {"field": "s", "type": "nominal", "scale": {"domain": ["CH₄","CH₄, C/G/R","CH₄, B/M","C₂H₅OH","C₂H₅OH, C/G/R","HCN","HCN, C/G/R","OCS","OCS, C/G/R","OCS, B/M","CS₂","CS₂, C/G/R"], "range": ["#0000ff","#0000ff","#0000ff","#008000","#008000","#ff0000","#ff0000","#000000","#000000","#000000","#00ffff","#00ffff"]}, "legend": null}}},
{"data": {"name": "btP"}, "transform": [{"filter": "indexof(datum.s, 'B/M') < 0"}], "mark": {"type": "point", "shape": "circle", "filled": true, "size": 56, "opacity": 1}, "encoding": {"color": {"field": "s", "type": "nominal", "scale": {"domain": ["CH₄","CH₄, C/G/R","CH₄, B/M","C₂H₅OH","C₂H₅OH, C/G/R","HCN","HCN, C/G/R","OCS","OCS, C/G/R","OCS, B/M","CS₂","CS₂, C/G/R"], "range": ["#0000ff","#0000ff","#0000ff","#008000","#008000","#ff0000","#ff0000","#000000","#000000","#000000","#00ffff","#00ffff"]}, "legend": null}}},
{"data": {"name": "btP"}, "transform": [{"filter": "indexof(datum.s, 'B/M') >= 0"}], "mark": {"type": "point", "shape": "M0,-1L0.235,-0.324L0.951,-0.309L0.38,0.124L0.588,0.809L0,0.4L-0.588,0.809L-0.38,0.124L-0.951,-0.309L-0.235,-0.324Z", "filled": true, "size": 64, "opacity": 1}, "encoding": {"color": {"field": "s", "type": "nominal", "scale": {"domain": ["CH₄","CH₄, C/G/R","CH₄, B/M","C₂H₅OH","C₂H₅OH, C/G/R","HCN","HCN, C/G/R","OCS","OCS, C/G/R","OCS, B/M","CS₂","CS₂, C/G/R"], "range": ["#0000ff","#0000ff","#0000ff","#008000","#008000","#ff0000","#ff0000","#000000","#000000","#000000","#00ffff","#00ffff"]}, "legend": null}}}
]
}
]
}
]
}
